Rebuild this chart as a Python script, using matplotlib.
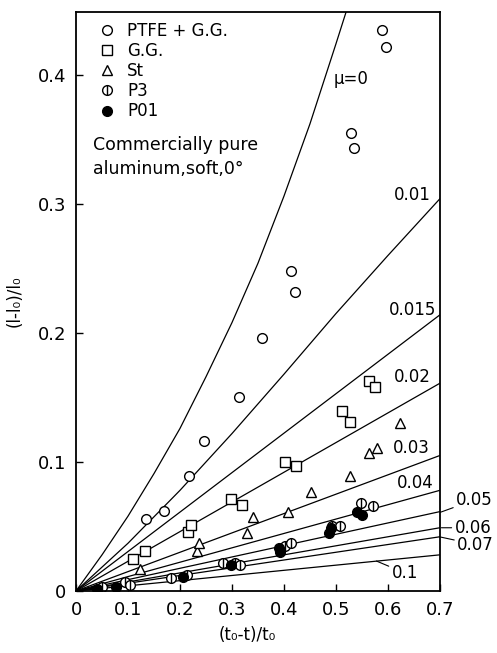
import numpy as np
import matplotlib
matplotlib.use("Agg")
import matplotlib.pyplot as plt

plt.rcParams['font.family'] = ['DejaVu Sans']

ptfe_x = [0.135, 0.169, 0.218, 0.247, 0.314, 0.357, 0.414, 0.422, 0.530, 0.535, 0.588, 0.596]
ptfe_y = [0.056, 0.062, 0.089, 0.116, 0.150, 0.196, 0.248, 0.232, 0.355, 0.343, 0.435, 0.422]

gg_x = [0.110, 0.132, 0.216, 0.222, 0.299, 0.319, 0.403, 0.423, 0.511, 0.528, 0.563, 0.576]
gg_y = [0.025, 0.031, 0.046, 0.051, 0.071, 0.067, 0.100, 0.097, 0.1395, 0.131, 0.163, 0.158]

st_x = [0.123, 0.233, 0.237, 0.328, 0.340, 0.407, 0.452, 0.528, 0.563, 0.580, 0.624]
st_y = [0.017, 0.031, 0.037, 0.045, 0.057, 0.061, 0.0765, 0.089, 0.107, 0.111, 0.130]

p3_x = [0.050, 0.095, 0.103, 0.182, 0.213, 0.283, 0.306, 0.315, 0.402, 0.414, 0.492, 0.508, 0.549, 0.571]
p3_y = [0.003, 0.007, 0.005, 0.010, 0.0125, 0.022, 0.022, 0.020, 0.035, 0.037, 0.050, 0.050, 0.068, 0.066]

p01_x = [0.040, 0.077, 0.206, 0.298, 0.390, 0.393, 0.486, 0.490, 0.540, 0.550]
p01_y = [0.0015, 0.003, 0.011, 0.020, 0.033, 0.0305, 0.045, 0.0486, 0.061, 0.059]

# calculated curves
mu0_x = [0, 0.05, 0.10, 0.15, 0.20, 0.25, 0.30, 0.35, 0.40, 0.45, 0.50, 0.53]
mu0_y = [0, 0.028, 0.058, 0.091, 0.126, 0.166, 0.208, 0.254, 0.306, 0.362, 0.424, 0.462]

mu001_x = [0, 0.1, 0.2, 0.3, 0.4, 0.5, 0.6, 0.7]
mu001_y = [0, 0.037, 0.078, 0.122, 0.168, 0.215, 0.260, 0.304]

# straight lines from origin to value at x = 0.7
line_mu = ['0.015', '0.02', '0.03', '0.04', '0.05', '0.06', '0.07', '0.1']
line_end = [0.214, 0.161, 0.105, 0.078, 0.0615, 0.049, 0.042, 0.028]

fig = plt.figure(figsize=(4.97, 6.53), dpi=100)
ax = fig.add_axes([0.153, 0.095, 0.732, 0.887])

lw = 0.9
ax.plot(mu0_x, mu0_y, color='black', lw=lw)
ax.plot(mu001_x, mu001_y, color='black', lw=lw)
for end in line_end:
    ax.plot([0, 0.7], [0, end], color='black', lw=lw)

ms = 7
h_ptfe, = ax.plot(ptfe_x, ptfe_y, 'o', ms=ms, mfc='white', mec='black', mew=1.0, ls='none')
h_gg, = ax.plot(gg_x, gg_y, 's', ms=ms, mfc='white', mec='black', mew=1.0, ls='none')
h_st, = ax.plot(st_x, st_y, '^', ms=ms, mfc='white', mec='black', mew=1.0, ls='none')
h_p3a, = ax.plot(p3_x, p3_y, 'o', ms=ms, mfc='white', mec='black', mew=1.0, ls='none')
h_p3b, = ax.plot(p3_x, p3_y, '|', ms=ms, mec='black', mew=1.0, ls='none')
h_p01, = ax.plot(p01_x, p01_y, 'o', ms=ms, mfc='black', mec='black', ls='none')

leg = ax.legend([h_ptfe, h_gg, h_st, (h_p3a, h_p3b), h_p01],
                ['PTFE + G.G.', 'G.G.', 'St', 'P3', 'P01'],
                loc='upper left', bbox_to_anchor=(0.03, 1.003), frameon=False,
                fontsize=12, handlelength=1.0, handletextpad=0.7,
                labelspacing=0.13, borderaxespad=0.3)

ax.text(0.032, 0.346, 'Commercially pure', fontsize=12.5, va='center', ha='left')
ax.text(0.032, 0.327, 'aluminum,soft,0°', fontsize=12.5, va='center', ha='left')

# curve labels inside
ax.text(0.495, 0.397, 'μ=0', fontsize=12, va='center', ha='left')
ax.text(0.683, 0.307, '0.01', fontsize=12, va='center', ha='right')
ax.text(0.693, 0.218, '0.015', fontsize=12, va='center', ha='right')
ax.text(0.683, 0.1655, '0.02', fontsize=12, va='center', ha='right')
ax.text(0.680, 0.111, '0.03', fontsize=12, va='center', ha='right')
ax.text(0.688, 0.084, '0.04', fontsize=12, va='center', ha='right')

# labels with leader lines
ax.annotate('0.05', xy=(0.701, 0.061), xytext=(0.731, 0.0705), fontsize=12,
            va='center', ha='left', annotation_clip=False,
            arrowprops=dict(arrowstyle='-', lw=0.8, color='black', shrinkA=0, shrinkB=0))
ax.annotate('0.06', xy=(0.703, 0.049), xytext=(0.728, 0.049), fontsize=12,
            va='center', ha='left', annotation_clip=False,
            arrowprops=dict(arrowstyle='-', lw=0.8, color='black', shrinkA=0, shrinkB=0))
ax.annotate('0.07', xy=(0.699, 0.042), xytext=(0.733, 0.036), fontsize=12,
            va='center', ha='left', annotation_clip=False,
            arrowprops=dict(arrowstyle='-', lw=0.8, color='black', shrinkA=0, shrinkB=0))
ax.annotate('0.1', xy=(0.578, 0.0232), xytext=(0.607, 0.014), fontsize=12,
            va='center', ha='left', annotation_clip=False,
            arrowprops=dict(arrowstyle='-', lw=0.8, color='black', shrinkA=0, shrinkB=0))

ax.set_xlim(0, 0.7)
ax.set_ylim(0, 0.449)
ax.set_xticks([0, 0.1, 0.2, 0.3, 0.4, 0.5, 0.6, 0.7])
ax.set_xticklabels(['0', '0.1', '0.2', '0.3', '0.4', '0.5', '0.6', '0.7'])
ax.set_yticks([0, 0.1, 0.2, 0.3, 0.4])
ax.set_yticklabels(['0', '0.1', '0.2', '0.3', '0.4'])
ax.tick_params(direction='in', length=5, width=1, labelsize=13, pad=7)
for s in ax.spines.values():
    s.set_linewidth(1.3)

ax.set_xlabel('(t₀-t)/t₀', fontsize=12, labelpad=4)
ax.xaxis.set_label_coords(0.47, -0.06)
ax.set_ylabel('(l-l₀)/l₀', fontsize=12, labelpad=10)

fig.savefig('out.png', dpi=100)
